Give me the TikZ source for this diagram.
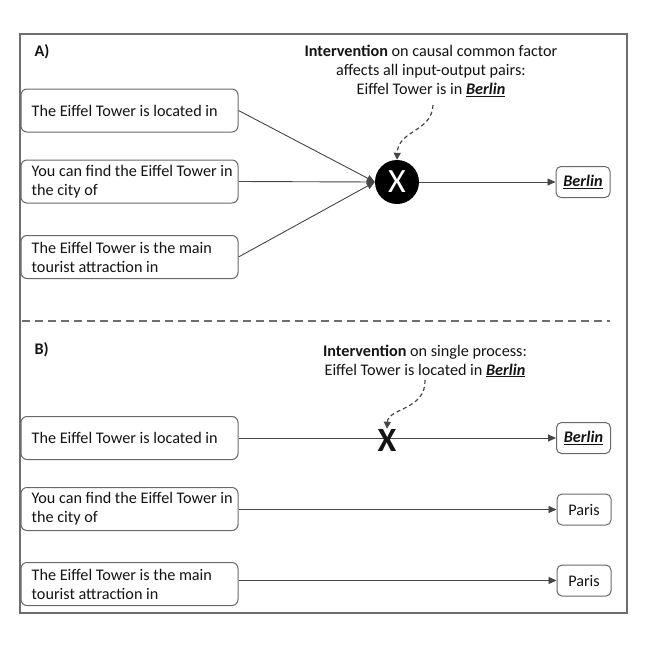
\documentclass[tikz,border=0pt]{standalone}
\usepackage{fontspec}
\setmainfont{Carlito}
\usetikzlibrary{arrows.meta}
\definecolor{framegray}{RGB}{110,110,110}
\definecolor{boxgray}{RGB}{105,105,105}
\definecolor{linegray}{RGB}{70,70,70}
\definecolor{txt}{RGB}{20,20,20}
\newcommand\berlinU{\underline{\textbf{\textit{Berlin}}}}
\begin{document}
\begin{tikzpicture}[x=1pt,y=-1pt,
  every node/.style={text=txt, font=\fontsize{16.2}{19}\selectfont},
  box/.style={draw=boxgray, line width=1pt, rounded corners=6pt, minimum width=217pt, minimum height=43pt, inner sep=0pt},
  outbox/.style={draw=boxgray, line width=1pt, rounded corners=5pt, minimum width=54pt, minimum height=31pt, inner sep=0pt},
  boxtext/.style={anchor=west, align=left, inner sep=0pt},
  conn/.style={draw=linegray, line width=0.9pt, -{Triangle[length=8pt,width=7pt]}},
  pointer/.style={draw=linegray, line width=1.2pt, dash pattern=on 4pt off 3pt, -{Triangle[length=7pt,width=7pt]}},
  lbl/.style={anchor=west, font=\fontsize{16.2}{19}\selectfont\bfseries}
]
\fill[white] (0,0) rectangle (645,645);
\useasboundingbox (0,0) rectangle (645,645);
\draw[framegray, line width=1.2pt] (20,34) rectangle (627,613);
\draw[framegray, line width=1.1pt, dash pattern=on 8pt off 5pt] (22,321) -- (610,321);

% ---------- A ----------
\node[lbl] (la) at (31,52) {A)};
\node[align=center] (ta) at (431,71) {\textbf{Intervention} on causal common factor\\affects all input-output pairs:\\Eiffel Tower is in \berlinU};

\node[box] (a1) at (129.5,110.5) {};
\node[boxtext] (a1t) at ([xshift=11pt]a1.west) {The Eiffel Tower is located in};
\node[box] (a2) at (129.5,181.5) {};
\node[boxtext] (a2t) at ([xshift=11pt]a2.west) {You can find the Eiffel Tower in\\the city of};
\node[box] (a3) at (129.5,257) {};
\node[boxtext] (a3t) at ([xshift=11pt]a3.west) {The Eiffel Tower is the main\\tourist attraction in};

\node[circle, fill=black, minimum size=44pt, inner sep=0pt, text=white, font=\fontsize{34}{34}\selectfont] (cx) at (397,182) {X};
\node[outbox] (ab) at (583,182) {\berlinU};

\draw[conn] (a1.east) -- (cx.west);
\draw[conn] (a2.east) -- (cx.west);
\draw[conn] (a3.east) -- (cx.west);
\draw[conn] (cx.east) -- (ab.west);

\coordinate (pa) at (433,105);
\draw[pointer] (pa) .. controls (432,132) and (398,130) .. (cx.north);

% ---------- B ----------
\node[lbl] (lb) at (31,350) {B)};
\node[align=center] (tb) at (425,361) {\textbf{Intervention} on single process:\\Eiffel Tower is located in \berlinU};

\node[box] (b1) at (129.5,438) {};
\node[boxtext] (b1t) at ([xshift=11pt]b1.west) {The Eiffel Tower is located in};
\node[box] (b2) at (129.5,509) {};
\node[boxtext] (b2t) at ([xshift=11pt]b2.west) {You can find the Eiffel Tower in\\the city of};
\node[box] (b3) at (129.5,584) {};
\node[boxtext] (b3t) at ([xshift=11pt]b3.west) {The Eiffel Tower is the main\\tourist attraction in};

\node[outbox] (bb) at (583.5,438) {\berlinU};
\node[outbox] (p1) at (584,509.5) {Paris};
\node[outbox] (p2) at (584,580.5) {Paris};

\draw[conn] (b1.east) -- (bb.west);
\draw[conn] (b2.east |- p1.west) -- (p1.west);
\draw[conn] (b3.east |- p2.west) -- (p2.west);

\node[inner sep=0pt, font=\fontsize{34}{34}\selectfont\bfseries] (xb) at (387,440) {X};
\coordinate (pb) at (425,380);
\draw[pointer] (pb) .. controls (426,410) and (388,408) .. (xb.north);
\end{tikzpicture}
\end{document}
